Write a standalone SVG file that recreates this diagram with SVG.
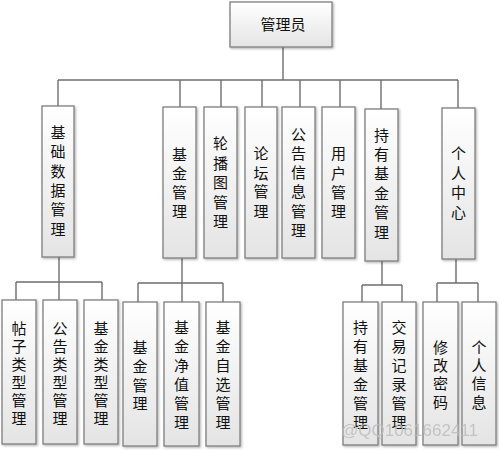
<svg xmlns="http://www.w3.org/2000/svg" width="499" height="450" viewBox="0 0 499 450">
<style>
.box{fill:url(#g);stroke:#7f7f7f;stroke-width:1.3;filter:url(#sh)}
.ln{fill:none;stroke:#6e6e6e;stroke-width:1.4}
.t{font-family:"Noto Sans CJK SC","Noto Sans CJK JP",sans-serif;font-size:15px;fill:#111;text-anchor:middle}
.wm{font-family:"Liberation Sans",Arial,sans-serif;font-size:17px;fill:#bdbdbd;opacity:0.85}
</style>
<defs>
<linearGradient id="g" x1="0" y1="0" x2="0" y2="1">
<stop offset="0" stop-color="#ffffff"/>
<stop offset="1" stop-color="#e4e4e4"/>
</linearGradient>
<filter id="sh" x="-20%" y="-20%" width="150%" height="150%">
<feDropShadow dx="1.2" dy="1.2" stdDeviation="1" flood-color="#000" flood-opacity="0.3"/>
</filter>
</defs>
<rect width="499" height="450" fill="#ffffff"/>
<g id="connectors">
<path class="ln" d="M283 47V80M58 80H458M58 80V107M180 80V107M221 80V107M262 80V107M300 80V107M340 80V107M381 80V109M458 80V108"/>
<path class="ln" d="M59 257V282M16 282H102M16 282V300M59 282V300M102 282V300"/>
<path class="ln" d="M182 258V283M138 283H223M138 283V302M182 283V302M223 283V302"/>
<path class="ln" d="M382 261V285M362 285H402M362 285V302M402 285V302"/>
<path class="ln" d="M456 259V283M437 283H478M437 283V302M478 283V302"/>
</g>
<g id="n-admin"><rect class="box" x="230" y="2" width="102" height="45"/><text class="t" x="283" y="30">管理员</text></g>
<g id="n-basic"><rect class="box" x="42" y="106" width="32" height="151"/><text class="t"><tspan x="58" y="137.5">基</tspan><tspan x="58" y="157">础</tspan><tspan x="58" y="176.5">数</tspan><tspan x="58" y="196">据</tspan><tspan x="58" y="215">管</tspan><tspan x="58" y="234.5">理</tspan></text></g>
<g id="n-fund"><rect class="box" x="163" y="107" width="33" height="151"/><text class="t"><tspan x="179.5" y="159.5">基</tspan><tspan x="179.5" y="178.5">金</tspan><tspan x="179.5" y="197.5">管</tspan><tspan x="179.5" y="216.5">理</tspan></text></g>
<g id="n-carousel"><rect class="box" x="204" y="107" width="33" height="151"/><text class="t"><tspan x="220.5" y="148.5">轮</tspan><tspan x="220.5" y="168.5">播</tspan><tspan x="220.5" y="188">图</tspan><tspan x="220.5" y="207.5">管</tspan><tspan x="220.5" y="226.5">理</tspan></text></g>
<g id="n-forum"><rect class="box" x="245" y="107" width="32" height="151"/><text class="t"><tspan x="261" y="159">论</tspan><tspan x="261" y="178.5">坛</tspan><tspan x="261" y="197">管</tspan><tspan x="261" y="216.5">理</tspan></text></g>
<g id="n-notice"><rect class="box" x="282" y="107" width="33" height="151"/><text class="t"><tspan x="298.5" y="139.5">公</tspan><tspan x="298.5" y="158.5">告</tspan><tspan x="298.5" y="178">信</tspan><tspan x="298.5" y="197">息</tspan><tspan x="298.5" y="216.5">管</tspan><tspan x="298.5" y="236">理</tspan></text></g>
<g id="n-user"><rect class="box" x="322" y="107" width="33" height="151"/><text class="t"><tspan x="338.5" y="159">用</tspan><tspan x="338.5" y="178.5">户</tspan><tspan x="338.5" y="197.5">管</tspan><tspan x="338.5" y="216.5">理</tspan></text></g>
<g id="n-hold"><rect class="box" x="365" y="109" width="33" height="152"/><text class="t"><tspan x="381.5" y="140.5">持</tspan><tspan x="381.5" y="160">有</tspan><tspan x="381.5" y="179">基</tspan><tspan x="381.5" y="198.5">金</tspan><tspan x="381.5" y="218">管</tspan><tspan x="381.5" y="237.5">理</tspan></text></g>
<g id="n-personal"><rect class="box" x="442" y="108" width="33" height="151"/><text class="t"><tspan x="458.5" y="159">个</tspan><tspan x="458.5" y="178.5">人</tspan><tspan x="458.5" y="197.5">中</tspan><tspan x="458.5" y="217.5">心</tspan></text></g>
<g id="n-posttype"><rect class="box" x="2" y="300" width="34" height="144"/><text class="t"><tspan x="19" y="333.5">帖</tspan><tspan x="19" y="351.5">子</tspan><tspan x="19" y="369.5">类</tspan><tspan x="19" y="387.5">型</tspan><tspan x="19" y="405.5">管</tspan><tspan x="19" y="423.5">理</tspan></text></g>
<g id="n-noticetype"><rect class="box" x="43" y="300" width="34" height="144"/><text class="t"><tspan x="60" y="333.5">公</tspan><tspan x="60" y="351.5">告</tspan><tspan x="60" y="369.5">类</tspan><tspan x="60" y="387.5">型</tspan><tspan x="60" y="405.5">管</tspan><tspan x="60" y="423.5">理</tspan></text></g>
<g id="n-fundtype"><rect class="box" x="84" y="300" width="34" height="144"/><text class="t"><tspan x="101" y="333.5">基</tspan><tspan x="101" y="351.5">金</tspan><tspan x="101" y="369.5">类</tspan><tspan x="101" y="387.5">型</tspan><tspan x="101" y="405.5">管</tspan><tspan x="101" y="423.5">理</tspan></text></g>
<g id="n-fundmgr"><rect class="box" x="123" y="302" width="34" height="144"/><text class="t"><tspan x="140" y="352.5">基</tspan><tspan x="140" y="371.5">金</tspan><tspan x="140" y="390.5">管</tspan><tspan x="140" y="409">理</tspan></text></g>
<g id="n-fundnav"><rect class="box" x="164" y="302" width="35" height="144"/><text class="t"><tspan x="181.5" y="332.5">基</tspan><tspan x="181.5" y="351.5">金</tspan><tspan x="181.5" y="370.5">净</tspan><tspan x="181.5" y="389.5">值</tspan><tspan x="181.5" y="408.5">管</tspan><tspan x="181.5" y="427.5">理</tspan></text></g>
<g id="n-fundfav"><rect class="box" x="206" y="302" width="34" height="144"/><text class="t"><tspan x="223" y="332.5">基</tspan><tspan x="223" y="351.5">金</tspan><tspan x="223" y="370.5">自</tspan><tspan x="223" y="389.5">选</tspan><tspan x="223" y="408.5">管</tspan><tspan x="223" y="427.5">理</tspan></text></g>
<g id="n-holdmgr"><rect class="box" x="343" y="302" width="35" height="143"/><text class="t"><tspan x="360.5" y="332.5">持</tspan><tspan x="360.5" y="351.5">有</tspan><tspan x="360.5" y="370.5">基</tspan><tspan x="360.5" y="389.5">金</tspan><tspan x="360.5" y="408.5">管</tspan><tspan x="360.5" y="427.5">理</tspan></text></g>
<g id="n-trade"><rect class="box" x="382" y="302" width="34" height="143"/><text class="t"><tspan x="399" y="332.5">交</tspan><tspan x="399" y="351.5">易</tspan><tspan x="399" y="370.5">记</tspan><tspan x="399" y="389.5">录</tspan><tspan x="399" y="408.5">管</tspan><tspan x="399" y="427.5">理</tspan></text></g>
<g id="n-pwd"><rect class="box" x="423" y="302" width="35" height="143"/><text class="t"><tspan x="440.5" y="352.5">修</tspan><tspan x="440.5" y="370.5">改</tspan><tspan x="440.5" y="388.5">密</tspan><tspan x="440.5" y="407.5">码</tspan></text></g>
<g id="n-info"><rect class="box" x="462" y="302" width="34" height="143"/><text class="t"><tspan x="479" y="352.5">个</tspan><tspan x="479" y="370.5">人</tspan><tspan x="479" y="388.5">信</tspan><tspan x="479" y="407.5">息</tspan></text></g>
<text class="wm" x="341" y="436">@QQ1061662411</text>
</svg>
